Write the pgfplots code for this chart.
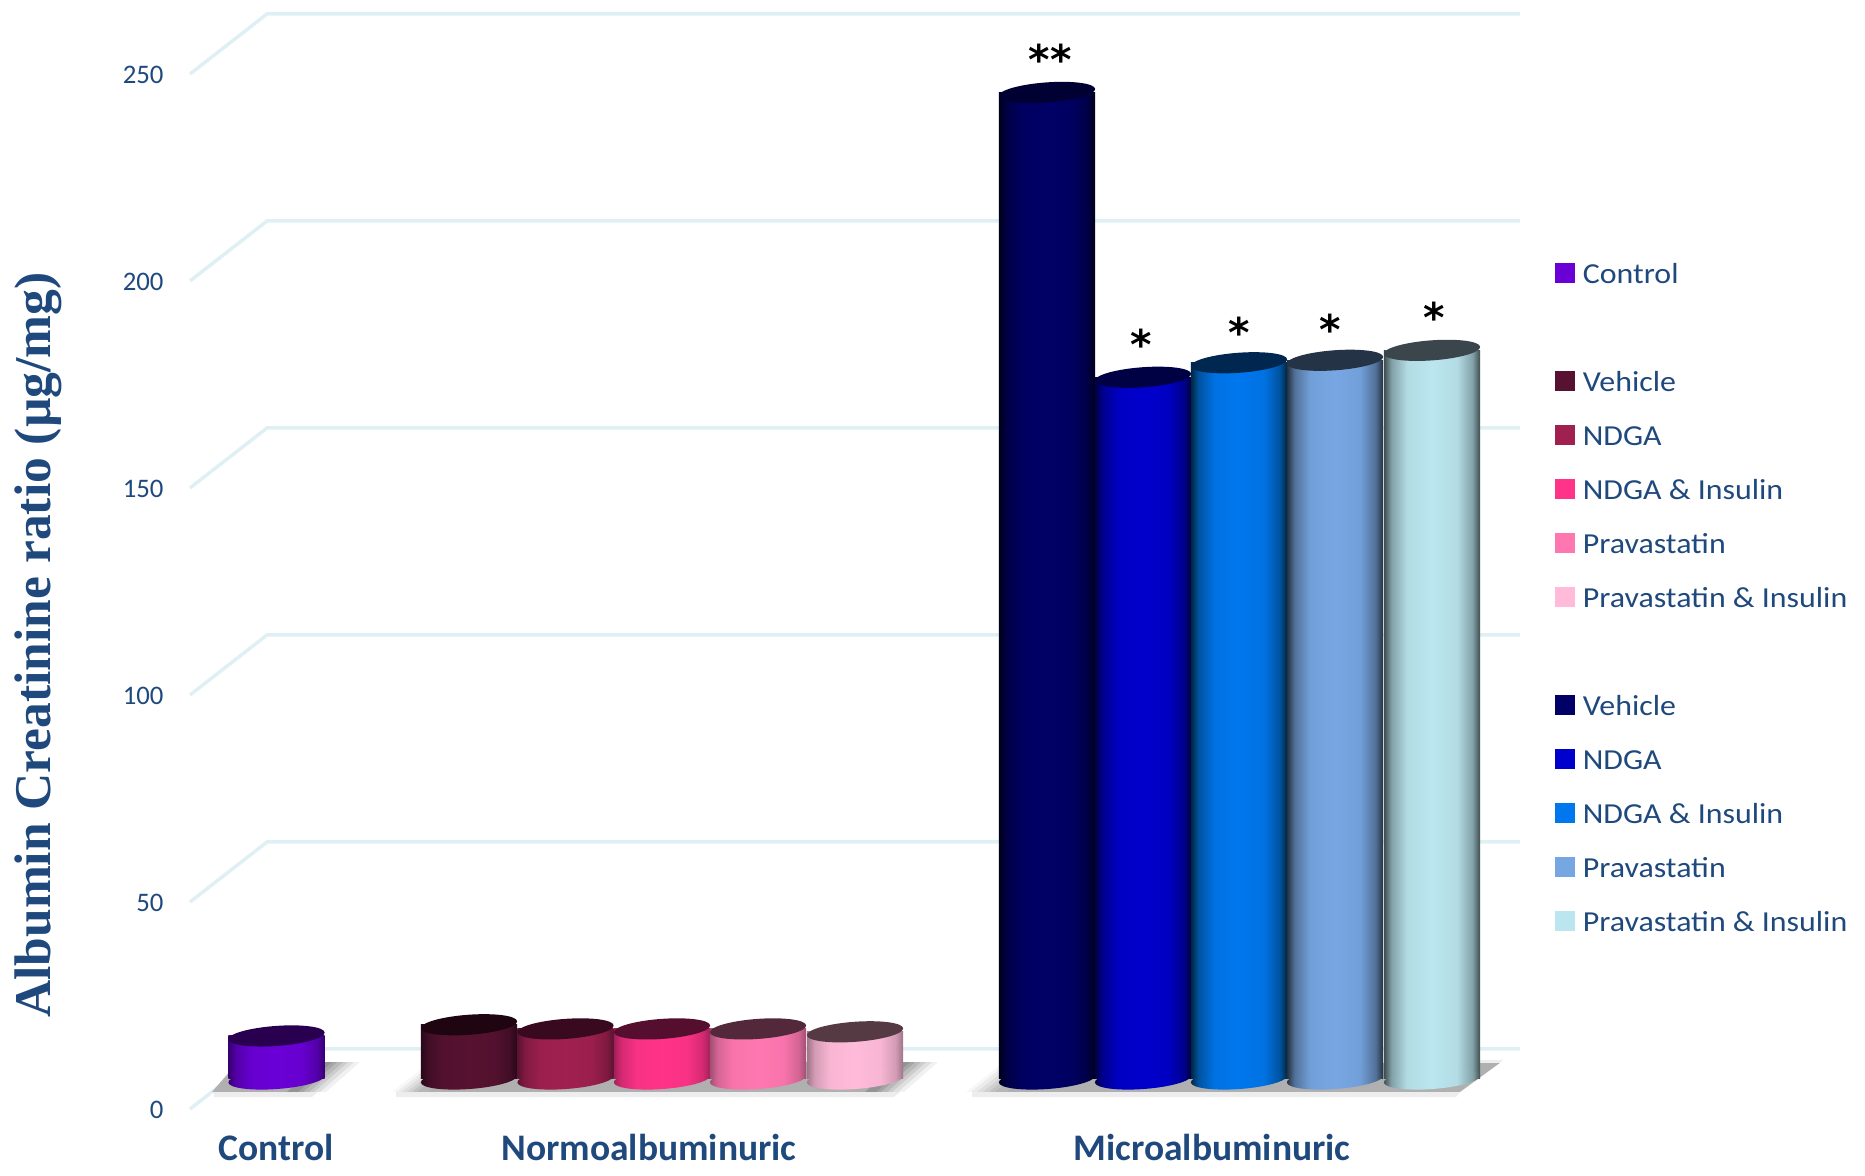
\documentclass[border=0pt]{standalone}
\usepackage{pgfplots}
\pgfplotsset{compat=1.18}
\usepackage{fontspec}
\setmainfont{Carlito}
\newfontfamily\titlefont{Liberation Serif}
\newfontfamily\starfont{DejaVu Sans}
\newfontfamily\legendfont[FakeStretch=1.1]{Carlito}
\definecolor{labelblue}{HTML}{1F497D}
\definecolor{gridblue}{HTML}{DFF0F5}
\definecolor{floorgray}{HTML}{B0B0B0}
\definecolor{floordark}{HTML}{8E8E8E}
\definecolor{floorpale}{HTML}{EDEDED}

% name, body colour, lid colour, rim colour of one cylinder
\newcommand{\defcyl}[4]{%
  \definecolor{#1main}{HTML}{#2}%
  \definecolor{#1top}{HTML}{#3}%
  \definecolor{#1edge}{HTML}{#4}%
  \pgfdeclarehorizontalshading{cyl#1}{100bp}{%
    color(0bp)=(#1edge); color(25bp)=(#1edge);
    color(29bp)=(#1main!55!#1edge); color(37bp)=(#1main!93!#1edge);
    color(50bp)=(#1main);
    color(63bp)=(#1main!93!#1edge); color(71bp)=(#1main!55!#1edge);
    color(75bp)=(#1edge); color(100bp)=(#1edge)}%
  \pgfdeclareplotmark{base#1}{%
    \pgfpathellipse{\pgfpointorigin}{\pgfqpoint{19.25pt}{1.4pt}}{\pgfqpoint{-.3pt}{4pt}}%
    \pgfshadepath{cyl#1}{0}\pgfusepath{discard}}%
  \pgfdeclareplotmark{lid#1}{%
    \pgfsetfillcolor{#1top}%
    \pgfpathellipse{\pgfpointorigin}{\pgfqpoint{19.25pt}{1.4pt}}{\pgfqpoint{-.3pt}{4pt}}%
    \pgfusepathqfill}%
}
\defcyl{ctrl}{6A00D6}{28004F}{360070}
\defcyl{na}{561230}{1E0510}{28081A}
\defcyl{nb}{A0204F}{38091F}{5A1230}
\defcyl{nc}{FF3388}{550E2E}{A01F58}
\defcyl{nd}{FF77B0}{54283B}{A04E72}
\defcyl{ne}{FFBBD9}{553A44}{9C7488}
\defcyl{ma}{000066}{000033}{00001A}
\defcyl{mb}{0000CC}{000044}{000040}
\defcyl{mc}{0077EE}{002750}{00263F}
\defcyl{md}{77A7E3}{243345}{242F3E}
\defcyl{me}{BBE6EF}{3A464B}{3D4C4F}

\pgfplotsset{
  wall/.style={gridblue,line width=1.4pt,forget plot},
  floor/.style={draw=none,fill=floorgray,forget plot},
  floorstrip/.style={draw=none,fill=floorpale,forget plot},
  softin/.style={draw=none,fill=floorgray!#1!white,forget plot},
  softout/.style={draw=none,fill=floordark!#1!white,forget plot},
  body/.style={ybar,bar shift=0pt,bar width=38.56pt,draw=none,shading=cyl#1,forget plot},
  bottomcap/.style={only marks,mark=base#1,forget plot},
  lidcap/.style={only marks,mark=lid#1,forget plot},
  legendsq/.style={fill=#1,draw=none},
  legend image code/.code={\fill[#1] (0pt,-4pt) rectangle (8pt,4pt);}
}

\begin{document}
\begin{tikzpicture}
\useasboundingbox (-76pt,-26.8pt) rectangle (670pt,443.6pt);
\begin{axis}[
  at={(0,0)},anchor=south west,
  scale only axis,width=532pt,height=438pt,
  xmin=190,xmax=1520,ymin=-7.246,ymax=257.246,
  clip=false,
  axis line style={draw=none},
  tick style={draw=none},
  major tick length=0pt,
  xtick={276,649,1212},
  xticklabels={Control,Normoalbuminuric,Microalbuminuric},
  x tick label style={font=\bfseries\fontsize{15}{17}\selectfont,text=labelblue,inner sep=0pt,yshift=-10pt},
  ytick={0,50,100,150,200,250},
  y tick label style={font=\fontsize{10.7}{12}\selectfont,text=labelblue,inner sep=0pt,xshift=-10.4pt,yshift=-12.4pt,
    /pgf/number format/assume math mode=true},
  ylabel={\titlefont\bfseries Albumin Creatinine ratio (µg/mg)},
  every axis y label/.style={at={(axis description cs:-0.114,0.4237)},rotate=90,anchor=center,
    font=\fontsize{20.6}{22}\selectfont,text=labelblue},
  legend style={at={(axis description cs:1.0264,0.4676)},anchor=west,draw=none,fill=none,
    inner sep=0pt,outer sep=0pt,row sep=0pt,column sep=3.1pt,
    font=\legendfont\fontsize{11.6}{13}\selectfont,text=labelblue,
    nodes={text height=12pt,text depth=3.6pt,inner xsep=0pt,inner ysep=3pt}},
  legend cell align=left,
]
% receding wall and side lines at every tick
\addplot[wall] coordinates {(190,-7.246)(267,7.246)(1520,7.246)};
\addplot[wall] coordinates {(190,42.754)(267,57.246)(1520,57.246)};
\addplot[wall] coordinates {(190,92.754)(267,107.246)(1520,107.246)};
\addplot[wall] coordinates {(190,142.754)(267,157.246)(1520,157.246)};
\addplot[wall] coordinates {(190,192.754)(267,207.246)(1520,207.246)};
\addplot[wall] coordinates {(190,242.754)(267,257.246)(1520,257.246)};

% floor shadow of the control group: rim, floor, stepped soft end
\addplot[floorstrip] coordinates {(214,-3.14)(318,-3.14)(312,-4.35)(214,-4.35)} --cycle;
\addplot[floor] coordinates {(212,-3.14)(292,-3.14)(326,4.1)(238,4.1)} --cycle;
\addplot[softout=12] coordinates {(315,-3.14)(326,-3.14)(360,4.1)(349,4.1)} --cycle;
\addplot[softout=28] coordinates {(309,-3.14)(320,-3.14)(354,4.1)(343,4.1)} --cycle;
\addplot[softout=45] coordinates {(303,-3.14)(314,-3.14)(348,4.1)(337,4.1)} --cycle;
\addplot[softout=62] coordinates {(298,-3.14)(309,-3.14)(343,4.1)(332,4.1)} --cycle;
\addplot[softout=80] coordinates {(292,-3.14)(303,-3.14)(337,4.1)(326,4.1)} --cycle;
\addplot[softout=95] coordinates {(287,-3.14)(298,-3.14)(332,4.1)(321,4.1)} --cycle;

% floor shadow of the normoalbuminuric group
\addplot[floorstrip] coordinates {(396,-3.14)(900,-3.14)(894,-4.35)(396,-4.35)} --cycle;
\addplot[floor] coordinates {(422,-3.14)(868,-3.14)(900,4.1)(460,4.1)} --cycle;
\addplot[softin=10] coordinates {(392,-3.14)(403,-3.14)(441,4.1)(430,4.1)} --cycle;
\addplot[softin=25] coordinates {(397,-3.14)(408,-3.14)(446,4.1)(435,4.1)} --cycle;
\addplot[softin=42] coordinates {(402,-3.14)(413,-3.14)(451,4.1)(440,4.1)} --cycle;
\addplot[softin=60] coordinates {(407,-3.14)(418,-3.14)(456,4.1)(445,4.1)} --cycle;
\addplot[softin=78] coordinates {(412,-3.14)(423,-3.14)(461,4.1)(450,4.1)} --cycle;
\addplot[softin=92] coordinates {(417,-3.14)(428,-3.14)(466,4.1)(455,4.1)} --cycle;
\addplot[softout=12] coordinates {(893,-3.14)(904,-3.14)(938,4.1)(927,4.1)} --cycle;
\addplot[softout=28] coordinates {(887,-3.14)(898,-3.14)(932,4.1)(921,4.1)} --cycle;
\addplot[softout=45] coordinates {(881,-3.14)(892,-3.14)(926,4.1)(915,4.1)} --cycle;
\addplot[softout=62] coordinates {(876,-3.14)(887,-3.14)(921,4.1)(910,4.1)} --cycle;
\addplot[softout=80] coordinates {(870,-3.14)(881,-3.14)(915,4.1)(904,4.1)} --cycle;
\addplot[softout=95] coordinates {(865,-3.14)(876,-3.14)(910,4.1)(899,4.1)} --cycle;

% floor shadow of the microalbuminuric group
\addplot[floorstrip] coordinates {(972,-3.14)(1460,-3.14)(1456,-4.35)(972,-4.35)} --cycle;
\addplot[floor] coordinates {(1000,-3.14)(1460,-3.14)(1500,3.9)(1038,3.9)} --cycle;
\addplot[floorstrip] coordinates {(1479,3.9)(1500,3.9)(1503,4.6)(1479,4.6)} --cycle;
\addplot[softin=10] coordinates {(966,-3.14)(977,-3.14)(1015,4.1)(1004,4.1)} --cycle;
\addplot[softin=25] coordinates {(971,-3.14)(982,-3.14)(1020,4.1)(1009,4.1)} --cycle;
\addplot[softin=42] coordinates {(977,-3.14)(988,-3.14)(1026,4.1)(1015,4.1)} --cycle;
\addplot[softin=60] coordinates {(983,-3.14)(994,-3.14)(1032,4.1)(1021,4.1)} --cycle;
\addplot[softin=78] coordinates {(989,-3.14)(1000,-3.14)(1038,4.1)(1027,4.1)} --cycle;
\addplot[softin=92] coordinates {(995,-3.14)(1006,-3.14)(1044,4.1)(1033,4.1)} --cycle;

% control group
\addplot[bottomcap=ctrl] coordinates {(276.5,0)};
\addplot[body=ctrl] coordinates {(276.5,10.4)};
\addplot[lidcap=ctrl] coordinates {(276.5,10.4)};

% normoalbuminuric group
\addplot[bottomcap=na] coordinates {(469,0)};
\addplot[body=na] coordinates {(469,13.1)};
\addplot[lidcap=na] coordinates {(469,13.1)};
\addplot[bottomcap=nb] coordinates {(565.5,0)};
\addplot[body=nb] coordinates {(565.5,12.1)};
\addplot[lidcap=nb] coordinates {(565.5,12.1)};
\addplot[bottomcap=nc] coordinates {(662,0)};
\addplot[body=nc] coordinates {(662,12.1)};
\addplot[lidcap=nc] coordinates {(662,12.1)};
\addplot[bottomcap=nd] coordinates {(758,0)};
\addplot[body=nd] coordinates {(758,12.1)};
\addplot[lidcap=nd] coordinates {(758,12.1)};
\addplot[bottomcap=ne] coordinates {(855,0)};
\addplot[body=ne] coordinates {(855,11.4)};
\addplot[lidcap=ne] coordinates {(855,11.4)};

% microalbuminuric group
\addplot[bottomcap=ma] coordinates {(1047,0)};
\addplot[body=ma] coordinates {(1047,238.3)};
\addplot[lidcap=ma] coordinates {(1047,238.3)};
\addplot[bottomcap=mb] coordinates {(1143,0)};
\addplot[body=mb] coordinates {(1143,169.5)};
\addplot[lidcap=mb] coordinates {(1143,169.5)};
\addplot[bottomcap=mc] coordinates {(1239,0)};
\addplot[body=mc] coordinates {(1239,173)};
\addplot[lidcap=mc] coordinates {(1239,173)};
\addplot[bottomcap=md] coordinates {(1335,0)};
\addplot[body=md] coordinates {(1335,173.6)};
\addplot[lidcap=md] coordinates {(1335,173.6)};
\addplot[bottomcap=me] coordinates {(1432,0)};
\addplot[body=me] coordinates {(1432,176)};
\addplot[lidcap=me] coordinates {(1432,176)};

% significance marks
\node[font=\starfont\bfseries\fontsize{16.4}{18}\selectfont,inner sep=0pt] at (axis cs:1050,246.3) {**};
\node[font=\starfont\bfseries\fontsize{16.4}{18}\selectfont,inner sep=0pt] at (axis cs:1141,177.5) {*};
\node[font=\starfont\bfseries\fontsize{16.4}{18}\selectfont,inner sep=0pt] at (axis cs:1239,180.4) {*};
\node[font=\starfont\bfseries\fontsize{16.4}{18}\selectfont,inner sep=0pt] at (axis cs:1330,181.1) {*};
\node[font=\starfont\bfseries\fontsize{16.4}{18}\selectfont,inner sep=0pt] at (axis cs:1434,184) {*};

% legend, grouped by blank rows
\addlegendimage{legendsq=ctrlmain}\addlegendentry{Control}
\addlegendimage{empty legend}\addlegendentry{\strut}
\addlegendimage{legendsq=namain}\addlegendentry{Vehicle}
\addlegendimage{legendsq=nbmain}\addlegendentry{NDGA}
\addlegendimage{legendsq=ncmain}\addlegendentry{NDGA \& Insulin}
\addlegendimage{legendsq=ndmain}\addlegendentry{Pravastatin}
\addlegendimage{legendsq=nemain}\addlegendentry{Pravastatin \& Insulin}
\addlegendimage{empty legend}\addlegendentry{\strut}
\addlegendimage{legendsq=mamain}\addlegendentry{Vehicle}
\addlegendimage{legendsq=mbmain}\addlegendentry{NDGA}
\addlegendimage{legendsq=mcmain}\addlegendentry{NDGA \& Insulin}
\addlegendimage{legendsq=mdmain}\addlegendentry{Pravastatin}
\addlegendimage{legendsq=memain}\addlegendentry{Pravastatin \& Insulin}
\end{axis}
\end{tikzpicture}
\end{document}
